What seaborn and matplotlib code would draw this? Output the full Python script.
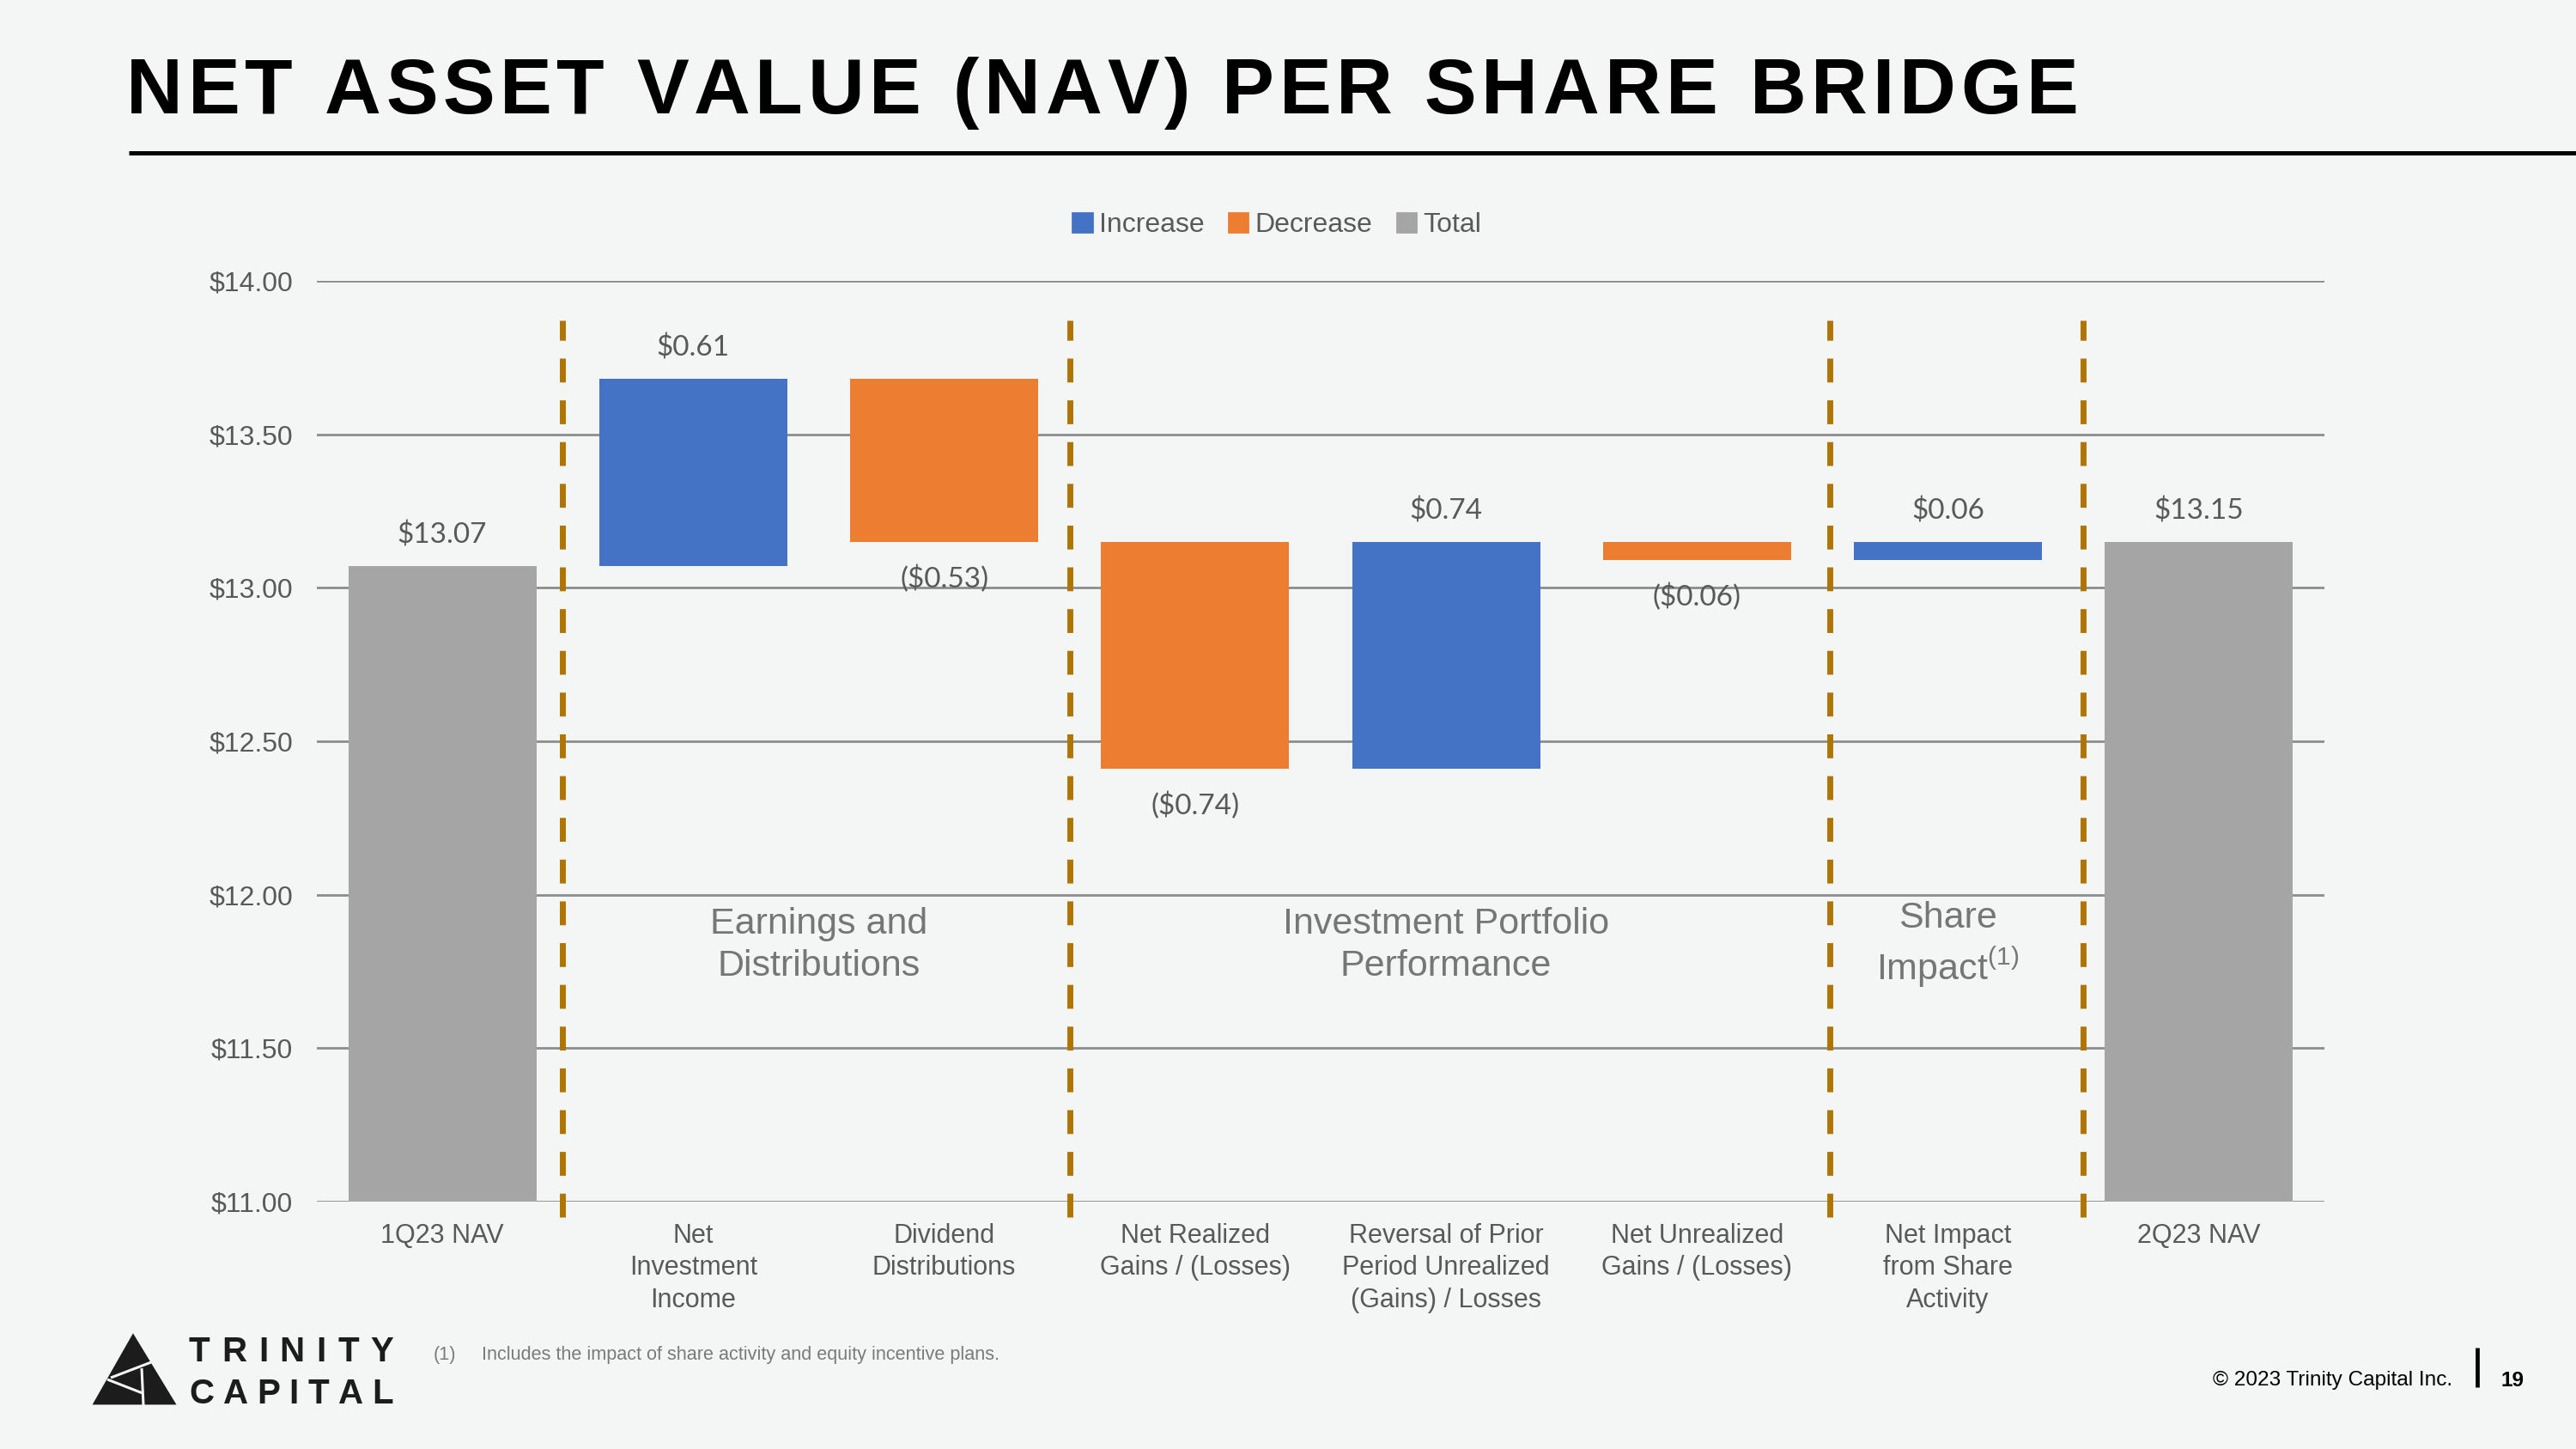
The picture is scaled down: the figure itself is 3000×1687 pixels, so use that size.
import numpy as np
import pandas as pd
import matplotlib.pyplot as plt
import seaborn as sns
from matplotlib.patches import Polygon, Patch

# Data
categories = ['1Q23 NAV', 'Net\nInvestment\nIncome', 'Dividend\nDistributions',
              'Net Realized\nGains / (Losses)', 'Reversal of Prior\nPeriod Unrealized\n(Gains) / Losses',
              'Net Unrealized\nGains / (Losses)', 'Net Impact\nfrom Share\nActivity', '2Q23 NAV']
changes = [13.07, 0.61, -0.53, -0.74, 0.74, -0.06, 0.06, 13.15]
kinds = ['Total', 'Increase', 'Decrease', 'Decrease', 'Increase', 'Decrease', 'Increase', 'Total']
value_labels = ['$13.07', '$0.61', '($0.53)', '($0.74)', '$0.74', '($0.06)', '$0.06', '$13.15']
y_ticks = [11.0, 11.5, 12.0, 12.5, 13.0, 13.5, 14.0]
group_names = ['Earnings and\nDistributions', 'Investment Portfolio\nPerformance', 'Share\nImpact$^{\\mathrm{(1)}}$']
group_centers = [1.5, 4.0, 6.0]
separators = [0.48, 2.5, 5.53, 6.54]
legend_order = ['Increase', 'Decrease', 'Total']

palette = {'Increase': '#4472C4', 'Decrease': '#ED7D31', 'Total': '#A5A5A5'}
BG = '#F4F5F5'
W, H = 3000, 1687

sns.set_style('white')
plt.rcParams['font.family'] = ['Liberation Sans', 'DejaVu Sans']
plt.rcParams['mathtext.fontset'] = 'custom'
plt.rcParams['mathtext.rm'] = 'Liberation Sans'
plt.rcParams['mathtext.it'] = 'Liberation Sans:italic'
plt.rcParams['mathtext.bf'] = 'Liberation Sans:bold'

# waterfall: floating bar bottoms / heights
bottoms, heights = [], []
level = 0.0
for c, k in zip(changes, kinds):
    if k == 'Total':
        bottoms.append(0.0)
        heights.append(c)
        level = c
    else:
        bottoms.append(min(level, level + c))
        heights.append(abs(c))
        level += c
df = pd.DataFrame({'cat': categories, 'kind': kinds, 'bottom': bottoms, 'height': heights})

fig = plt.figure(figsize=(15, 8.435), dpi=200)
fig.patch.set_facecolor(BG)

# background layer in pixel coordinates
bg = fig.add_axes([0, 0, 1, 1], zorder=-1)
bg.set_xlim(0, W)
bg.set_ylim(H, 0)
bg.axis('off')

ax = fig.add_axes([369 / W, 1 - 1399 / H, (2707 - 369) / W, (1399 - 327) / H])
ax.set_facecolor('none')

for kind in legend_order:
    sub = df[df['kind'] == kind]
    sns.barplot(data=sub, x='cat', y='height', order=categories, bottom=sub['bottom'].values,
                color=palette[kind], saturation=1, width=0.75, errorbar=None, ax=ax,
                linewidth=0, edgecolor='none', zorder=3)

ax.set_xlim(-0.5, 7.5)
ax.set_ylim(11, 14)
ax.set_yticks(y_ticks)
ax.set_yticklabels([f'${v:.2f}' for v in y_ticks])
ax.set_xticks(range(len(categories)))
ax.set_xticklabels(categories, linespacing=1.32)
ax.set_xlabel('')
ax.set_ylabel('')
ax.tick_params(axis='y', length=0, pad=10, labelsize=11.5, labelcolor='#595959')
ax.tick_params(axis='x', length=0, pad=9, labelsize=11, labelcolor='#595959')
ax.yaxis.grid(True, color='#8c8c8c', lw=1.0, zorder=0)
ax.set_axisbelow(True)
for sp in ax.spines.values():
    sp.set_visible(False)

# value labels
for i, (lab, k) in enumerate(zip(value_labels, kinds)):
    b, h = bottoms[i], heights[i]
    if k == 'Decrease':
        y, off = b, -15.5
    else:
        y, off = b + h, 13
    ax.annotate(lab, (i, y), xytext=(0, off), textcoords='offset points',
                ha='center', va='center', fontsize=12, color='#595959',
                family=['Lato', 'DejaVu Sans'])

# section separators
for s in separators:
    ax.axvline(s, ymin=-0.017, ymax=0.957, color='#AF7500', lw=2.5, dashes=(4, 3),
               clip_on=False, zorder=4)

# section names
for name, c in zip(group_names, group_centers):
    ax.text(c, 11.835, name, ha='center', va='center', fontsize=15.5, color='#767676',
            linespacing=1.28)

# legend
handles = [Patch(color=palette[k], label=k) for k in legend_order]
fig.legend(handles=handles, loc='center', bbox_to_anchor=(0.4957, 0.8445), ncol=3,
           frameon=False, handlelength=0.7, handleheight=0.7, handletextpad=0.25,
           columnspacing=0.9, fontsize=11.5, labelcolor='#595959')


def tracked_text(x0, x1, y, s, **kw):
    # spread the characters of s evenly between x0 and x1
    r = fig.canvas.get_renderer()
    items, widths = [], []
    for ch in s:
        t = bg.text(0, y, ch, ha='left', va='baseline', **kw)
        if ch == ' ':
            w = t.get_fontsize() * 200 / 72 * 0.28
        else:
            w = t.get_window_extent(r).width
        items.append(t)
        widths.append(w)
    gap = (x1 - x0 - sum(widths)) / (len(s) - 1)
    x = x0
    for t, w in zip(items, widths):
        t.set_x(x)
        x += w + gap


# title and rule
tracked_text(147, 2421, 132, 'NET ASSET VALUE (NAV) PER SHARE BRIDGE',
             fontsize=32.8, fontweight='bold', color='black')
bg.plot([150, W], [178, 178], color='black', lw=1.8, solid_capstyle='butt')

# logo
bg.add_patch(Polygon([(155, 1555), (110, 1634), (203, 1634)], closed=True, color='#1c1c1c'))
for (xa, ya), (xb, yb) in [((129, 1604), (176, 1586)), ((125, 1606), (166, 1622)),
                           ((165, 1593), (167, 1636))]:
    bg.plot([xa, xb], [ya, yb], color=BG, lw=1.1, solid_capstyle='butt')
tracked_text(220, 458, 1585, 'TRINITY', fontsize=14.5, fontweight='bold', color='#1c1c1c')
tracked_text(220, 458, 1634, 'CAPITAL', fontsize=14.5, fontweight='bold', color='#1c1c1c')

# footnote and footer
bg.text(505, 1577, '(1)', fontsize=7.8, color='#7a7a7a', va='center')
bg.text(561, 1577, 'Includes the impact of share activity and equity incentive plans.',
        fontsize=7.8, color='#7a7a7a', va='center')
bg.text(2856, 1607, '\u00a9 2023 Trinity Capital Inc.', ha='right', va='center',
        fontsize=8.8, color='black')
bg.plot([2885, 2885], [1569, 1615], color='black', lw=1.7, solid_capstyle='butt')
bg.text(2913, 1607, '19', ha='left', va='center', fontsize=8.8, fontweight='bold', color='black')

fig.savefig('out.png', dpi=200, facecolor=BG)
